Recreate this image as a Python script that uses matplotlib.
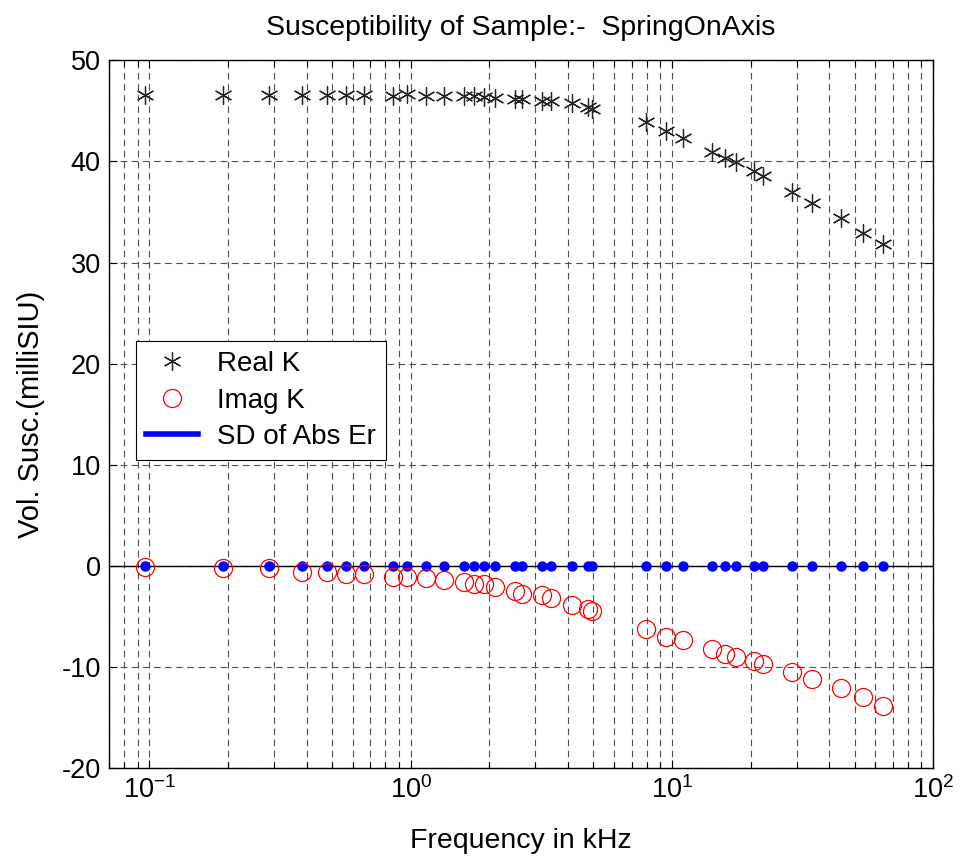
import numpy as np
import matplotlib.pyplot as plt
from matplotlib.lines import Line2D

plt.rcParams['font.family'] = ['Liberation Sans', 'DejaVu Sans']
plt.rcParams['mathtext.fontset'] = 'custom'
plt.rcParams['mathtext.rm'] = 'Liberation Sans'
plt.rcParams['mathtext.default'] = 'regular'
plt.rcParams['axes.unicode_minus'] = False

# frequencies in kHz
freq = [0.0965, 0.191, 0.287, 0.382, 0.476, 0.567, 0.664, 0.855, 0.967, 1.146,
        1.343, 1.602, 1.739, 1.910, 2.105, 2.509, 2.662, 3.176, 3.437, 4.157,
        4.785, 4.931, 7.934, 9.46, 11.05, 14.26, 15.99, 17.62, 20.53, 22.23,
        28.69, 34.21, 44.17, 53.76, 63.94]

real_k = [46.6, 46.6, 46.6, 46.6, 46.6, 46.6, 46.6, 46.45, 46.65, 46.45,
          46.45, 46.45, 46.45, 46.4, 46.25, 46.15, 46.15, 45.95, 45.95, 45.75,
          45.4, 45.15, 43.9, 43.0, 42.35, 40.95, 40.3, 39.9, 39.1, 38.55,
          37.0, 35.85, 34.4, 32.95, 31.85]

imag_k = [-0.07, -0.17, -0.24, -0.56, -0.56, -0.78, -0.78, -1.05, -1.05, -1.15,
          -1.37, -1.61, -1.80, -1.80, -2.03, -2.45, -2.75, -2.91, -3.18, -3.82,
          -4.25, -4.48, -6.25, -6.98, -7.35, -8.24, -8.73, -8.96, -9.38, -9.65,
          -10.46, -11.15, -12.06, -12.91, -13.82]

sd_abs = [0.0] * len(freq)

yticks = [-20, -10, 0, 10, 20, 30, 40, 50]

fig = plt.figure(figsize=(9.64, 8.67), dpi=100)
ax = fig.add_axes([0.1131, 0.1138, 0.855, 0.8166])

ax.set_xscale('log')
ax.set_xlim(0.07, 100)
ax.set_ylim(-20, 50)
ax.set_yticks(yticks)

ax.grid(True, which='major', axis='both', color='#505050', ls=(0, (6, 4)), lw=0.8)
ax.grid(True, which='minor', axis='x', color='#505050', ls=(0, (6, 4)), lw=0.8)
ax.set_axisbelow(True)

ax.axhline(0, color='k', lw=1.0, zorder=2)

ax.plot(freq, sd_abs, ls='none', marker='o', ms=6.5, color='#0000ff', zorder=3)
ax.plot(freq, imag_k, ls='none', marker='o', ms=13, mfc='none', mec='#ff0000', mew=0.9, zorder=4)
ax.plot(freq, real_k, ls='none', marker=(6, 2, 0), ms=13, color='#222222', mew=0.9, zorder=4)

ax.tick_params(which='both', direction='in', top=True, right=True, labelsize=19.5)
ax.tick_params(which='major', length=6, width=0.8, pad=6)
ax.tick_params(which='minor', length=4, width=0.8)
for s in ax.spines.values():
    s.set_linewidth(1.0)

ax.set_title('Susceptibility of Sample:-  SpringOnAxis', fontsize=20.5, pad=18)
ax.set_xlabel('Frequency in kHz', fontsize=20.5, labelpad=17)
ax.set_ylabel('Vol. Susc.(milliSIU)', fontsize=21, labelpad=12)

handles = [
    Line2D([], [], ls='none', marker=(6, 2, 0), ms=13, color='#222222', mew=0.9),
    Line2D([], [], ls='none', marker='o', ms=13, mfc='none', mec='#ff0000', mew=0.9),
    Line2D([], [], color='#0000ff', lw=4),
]
leg = ax.legend(handles, ['Real K', 'Imag K', 'SD of Abs Er'], loc='upper left',
                bbox_to_anchor=(0.033, 0.6035), borderaxespad=0, fontsize=20,
                fancybox=False, framealpha=1, edgecolor='k', handlelength=1.85,
                labelspacing=0.38, borderpad=0.36, handletextpad=0.7)
leg.get_frame().set_linewidth(0.8)

fig.savefig('out.png', dpi=100, facecolor='white')
